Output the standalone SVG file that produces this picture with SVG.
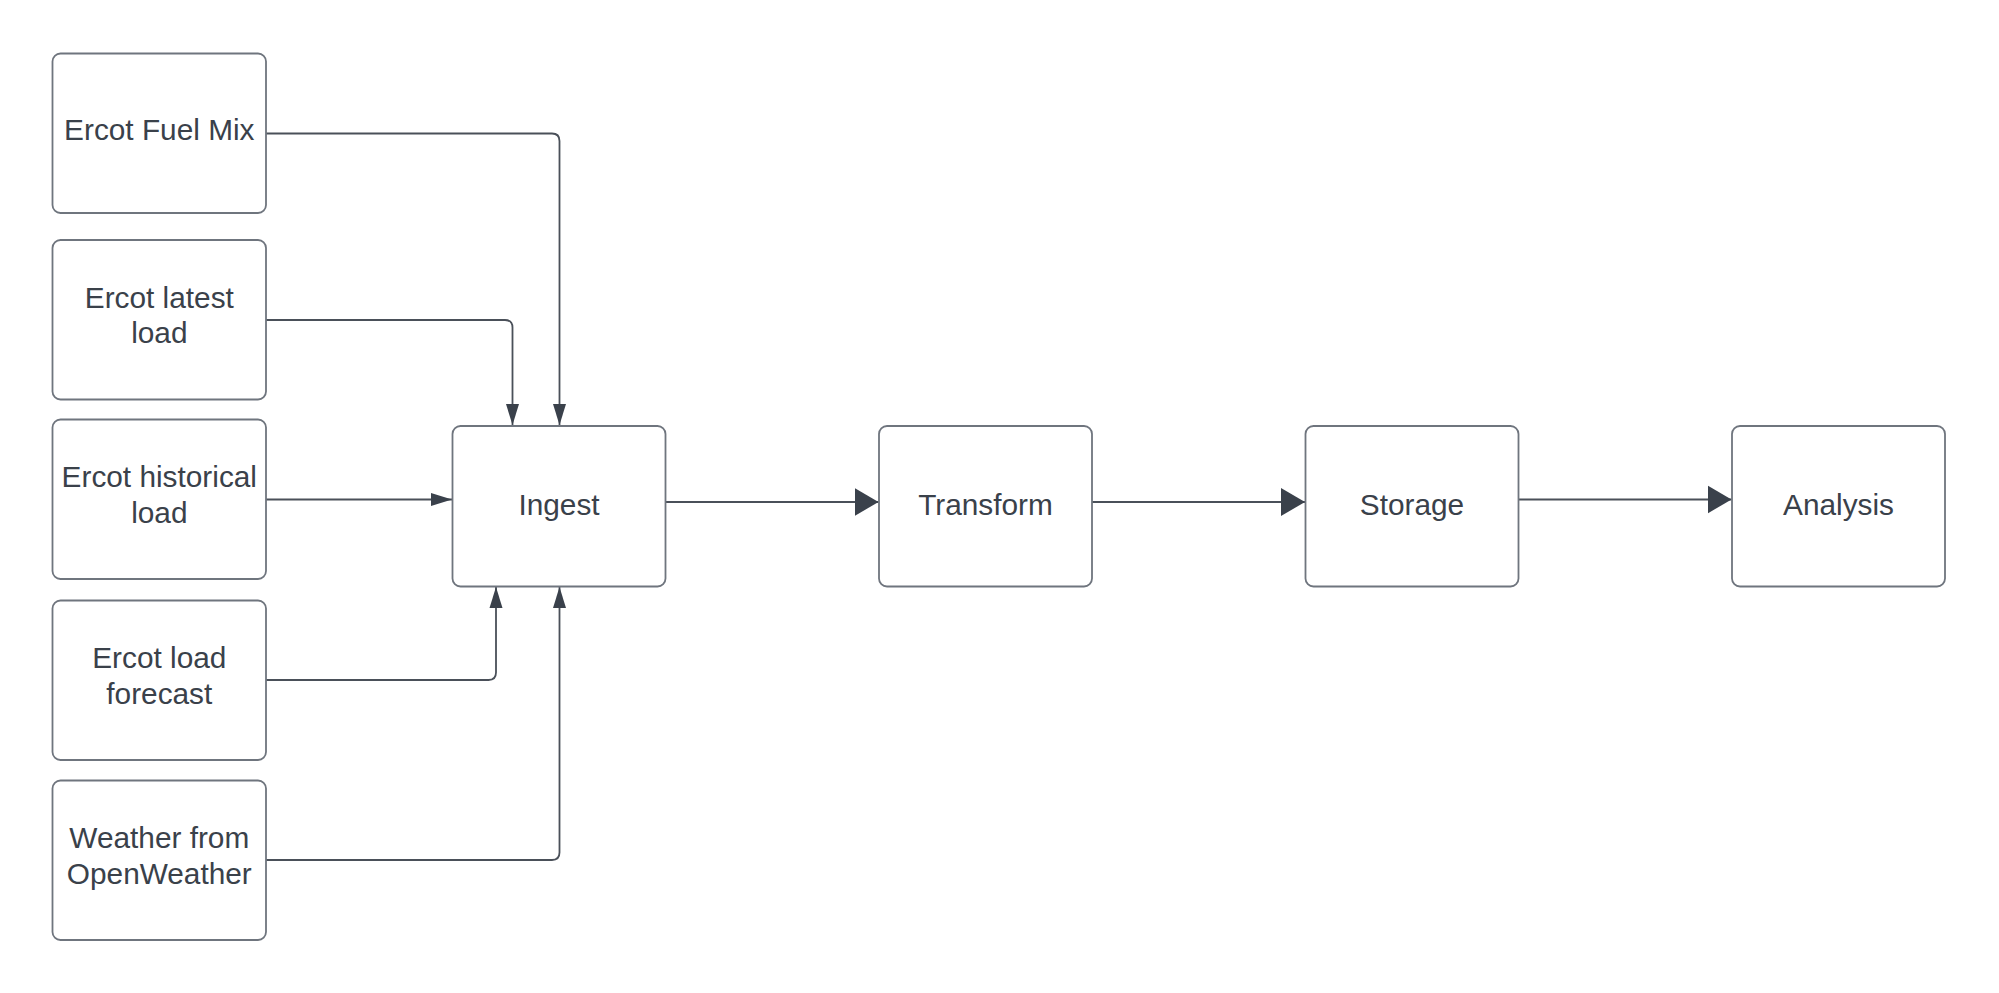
<svg xmlns="http://www.w3.org/2000/svg" width="1999" height="993" viewBox="0 0 1999 993">
<style>
.box{fill:#ffffff;stroke:#6f757e;stroke-width:1.8}
.lbl{font-family:"Liberation Sans",Arial,sans-serif;font-size:29.8px;fill:#3a414a;text-anchor:middle}
.con{fill:none;stroke:#4a5059;stroke-width:1.8}
</style>
<defs>
<marker id="sm" markerUnits="userSpaceOnUse" markerWidth="22" markerHeight="14" refX="21" refY="7" orient="auto" viewBox="0 0 22 14">
<path d="M0,0.5 L21,7 L0,13.5 Z" fill="#3a414b"/>
</marker>
<marker id="lg" markerUnits="userSpaceOnUse" markerWidth="25" markerHeight="29" refX="24" refY="14.5" orient="auto" viewBox="0 0 25 29">
<path d="M0,0.5 L24,14.5 L0,28.5 Z" fill="#3a414b"/>
</marker>
</defs>
<rect width="1999" height="993" fill="#ffffff"/>
<g id="connectors">
<path class="con" d="M266,133.5 H552 Q559.5,133.5 559.5,141 V425" marker-end="url(#sm)"/>
<path class="con" d="M266,320 H505 Q512.5,320 512.5,327.5 V425" marker-end="url(#sm)"/>
<path class="con" d="M266,499.5 H452" marker-end="url(#sm)"/>
<path class="con" d="M266,680 H488.5 Q496,680 496,672.5 V587" marker-end="url(#sm)"/>
<path class="con" d="M266,860 H552 Q559.5,860 559.5,852.5 V587" marker-end="url(#sm)"/>
<path class="con" d="M665.5,502 H878.5" marker-end="url(#lg)"/>
<path class="con" d="M1092,502 H1305" marker-end="url(#lg)"/>
<path class="con" d="M1518.5,499.5 H1731.5" marker-end="url(#lg)"/>
</g>
<g id="fuel-mix">
<rect class="box" x="52.5" y="53.5" width="213.5" height="159.5" rx="8"/>
<text class="lbl" x="159.3" y="139.5">Ercot Fuel Mix</text>
</g>
<g id="latest-load">
<rect class="box" x="52.5" y="240" width="213.5" height="159.5" rx="8"/>
<text class="lbl" x="159.3" y="307.5">Ercot latest</text>
<text class="lbl" x="159.3" y="343.3">load</text>
</g>
<g id="historical-load">
<rect class="box" x="52.5" y="419.5" width="213.5" height="159.5" rx="8"/>
<text class="lbl" x="159.3" y="487">Ercot historical</text>
<text class="lbl" x="159.3" y="522.8">load</text>
</g>
<g id="load-forecast">
<rect class="box" x="52.5" y="600.5" width="213.5" height="159.5" rx="8"/>
<text class="lbl" x="159.3" y="668">Ercot load</text>
<text class="lbl" x="159.3" y="703.8">forecast</text>
</g>
<g id="weather">
<rect class="box" x="52.5" y="780.5" width="213.5" height="159.5" rx="8"/>
<text class="lbl" x="159.3" y="848">Weather from</text>
<text class="lbl" x="159.3" y="883.8">OpenWeather</text>
</g>
<g id="ingest">
<rect class="box" x="452.5" y="426" width="213" height="160.5" rx="8"/>
<text class="lbl" x="559" y="514.5">Ingest</text>
</g>
<g id="transform">
<rect class="box" x="879" y="426" width="213" height="160.5" rx="8"/>
<text class="lbl" x="985.5" y="514.5">Transform</text>
</g>
<g id="storage">
<rect class="box" x="1305.5" y="426" width="213" height="160.5" rx="8"/>
<text class="lbl" x="1412" y="514.5">Storage</text>
</g>
<g id="analysis">
<rect class="box" x="1732" y="426" width="213" height="160.5" rx="8"/>
<text class="lbl" x="1838.5" y="514.5">Analysis</text>
</g>
</svg>
